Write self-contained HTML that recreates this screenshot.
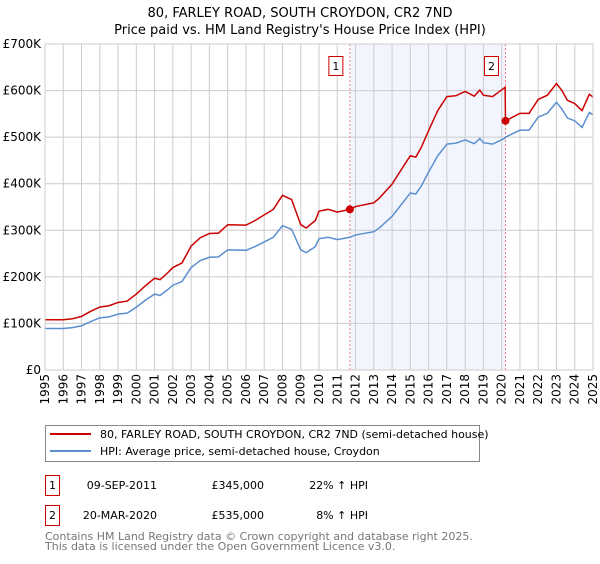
<!DOCTYPE html>
<html><head><meta charset="utf-8"><style>
body{margin:0;background:#fff;font-family:"DejaVu Sans","Liberation Sans",sans-serif;}
svg text{font-family:"DejaVu Sans","Liberation Sans",sans-serif;}
</style></head><body>
<svg id="chart" width="600" height="560" xmlns="http://www.w3.org/2000/svg">
<text x="300" y="17" text-anchor="middle" font-size="13">80, FARLEY ROAD, SOUTH CROYDON, CR2 7ND</text>
<text x="300" y="34" text-anchor="middle" font-size="13">Price paid vs. HM Land Registry's House Price Index (HPI)</text>
<g id="plot"></g>
<g>
<rect x="45.5" y="425.5" width="434" height="36" fill="#fff" stroke="#888"/>
<line x1="50" y1="434" x2="91" y2="434" stroke="#cc0000" stroke-width="2"/>
<text x="100" y="438" font-size="11">80, FARLEY ROAD, SOUTH CROYDON, CR2 7ND (semi-detached house)</text>
<line x1="50" y1="451" x2="91" y2="451" stroke="#5b8fd0" stroke-width="2"/>
<text x="100" y="455" font-size="11">HPI: Average price, semi-detached house, Croydon</text>
</g>
<g font-size="11">
<rect x="45.5" y="475.5" width="14" height="20" fill="#fff" stroke="#cc0000"/>
<text x="52.5" y="489" text-anchor="middle">1</text>
<text x="157" y="489" text-anchor="end">09-SEP-2011</text>
<text x="264" y="489" text-anchor="end">£345,000</text>
<text x="368" y="489" text-anchor="end">22% ↑ HPI</text>
<rect x="45.5" y="505.5" width="14" height="20" fill="#fff" stroke="#cc0000"/>
<text x="52.5" y="519" text-anchor="middle">2</text>
<text x="157" y="519" text-anchor="end">20-MAR-2020</text>
<text x="264" y="519" text-anchor="end">£535,000</text>
<text x="368" y="519" text-anchor="end">8% ↑ HPI</text>
</g>
<text x="45" y="540" font-size="11" fill="#777">Contains HM Land Registry data © Crown copyright and database right 2025.</text>
<text x="45" y="550" font-size="11" fill="#777">This data is licensed under the Open Government Licence v3.0.</text>
</svg>
<script>
const years=[1995,1996,1996.5,1997,1997.5,1998,1998.5,1999,1999.5,2000,2000.5,2001,2001.3,2001.7,2002,2002.5,2003,2003.5,2004,2004.5,2005,2006,2006.5,2007,2007.5,2008,2008.5,2009,2009.3,2009.8,2010,2010.5,2011,2011.69,2012,2013,2013.3,2014,2014.5,2015,2015.3,2015.6,2016,2016.5,2017,2017.5,2018,2018.5,2018.8,2019,2019.5,2020.19,2020.21,2021,2021.5,2022,2022.5,2023,2023.3,2023.6,2024,2024.4,2024.8,2025];
const hpiValues=[89,89,91,95,104,112,114,120,122,135,150,163,160,172,182,190,220,235,242,243,258,257,265,275,285,310,302,258,252,265,282,285,280,285,290,297,305,330,355,380,378,395,425,460,485,487,494,486,497,488,485,498,500,515,515,543,551,575,560,541,535,521,553,548];
const priceValues=[108,108,110,115,126,135,138,145,148,163,181,197,194,208,220,230,266,284,293,294,312,311,321,333,345,375,366,312,305,321,341,345,339,345,351,359,369,399,430,460,457,478,514,557,587,589,598,588,601,590,587,607,535,551,551,581,590,615,600,579,572,557,592,586];
const saleYears=[2011.69,2020.21];
const salePrices=[345,535];
const saleLabels=["1","2"];
const yTicks=[0,100,200,300,400,500,600,700];
const yTickLabels=["£0","£100K","£200K","£300K","£400K","£500K","£600K","£700K"];
const xTicks=[1995,1996,1997,1998,1999,2000,2001,2002,2003,2004,2005,2006,2007,2008,2009,2010,2011,2012,2013,2014,2015,2016,2017,2018,2019,2020,2021,2022,2023,2024,2025];

const L=45,R=593,T=44,B=370;
const xs=y=>L+(y-1995)/30*(R-L);
const ys=v=>B-v/700*(B-T);
const NS="http://www.w3.org/2000/svg";
const g=document.getElementById('plot');
function mk(t,a,p){const e=document.createElementNS(NS,t);for(const k in a)e.setAttribute(k,a[k]);(p||g).appendChild(e);return e;}
const sh=mk('rect',{x:xs(saleYears[0]),y:T,width:xs(saleYears[1])-xs(saleYears[0]),height:B-T,fill:'#f2f5fd'});


xTicks.forEach(t=>{
 const l=mk('line',{x1:xs(t),x2:xs(t),y1:T,y2:B,stroke:'#ccc','stroke-width':1});
 
 
 const tx=mk('text',{x:0,y:0,'font-size':12,'text-anchor':'end',transform:`translate(${xs(t)+4},${B+4}) rotate(-90)`});
 
 
 tx.textContent=t;
});
yTicks.forEach((t,i)=>{
 const l=mk('line',{x1:L,x2:R,y1:ys(t),y2:ys(t),stroke:'#ccc','stroke-width':1});
 
 
 const tx=mk('text',{x:L-4,y:ys(t)+4,'font-size':12,'text-anchor':'end'});
 
 
 tx.textContent=yTickLabels[i];
});
saleYears.forEach((s,i)=>{
 const l=mk('line',{x1:xs(s),x2:xs(s),y1:T,y2:B,stroke:'#f08080','stroke-dasharray':'2,2','stroke-width':1});
 
 
 const r=mk('rect',{x:xs(s)-21,y:56.5,width:14,height:19,fill:'#fff',stroke:'#cc0000'});
 
 
 const tx=mk('text',{x:xs(s)-14,y:70,'font-size':11,'text-anchor':'middle'});
 
 
 tx.textContent=saleLabels[i];
});
const hp=mk('polyline',{points:years.map((y,i)=>xs(y)+','+ys(hpiValues[i])).join(' '),fill:'none',stroke:'#5b8fd0','stroke-width':1.5});


const pp=mk('polyline',{points:years.map((y,i)=>xs(y)+','+ys(priceValues[i])).join(' '),fill:'none',stroke:'#cc0000','stroke-width':1.5});


saleYears.forEach((s,i)=>{
 const c=mk('circle',{cx:xs(s),cy:ys(salePrices[i]),r:4,fill:'#cc0000'});
 
 
});
const ax=mk('rect',{x:L,y:T,width:R-L,height:B-T,fill:'none',stroke:'#ccc'});


</script>
</body></html>
